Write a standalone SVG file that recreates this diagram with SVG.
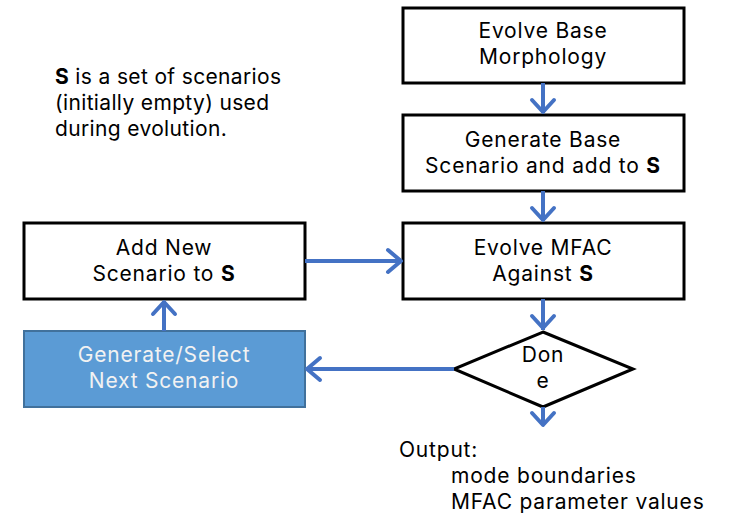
<svg xmlns="http://www.w3.org/2000/svg" width="732" height="517" viewBox="0 0 732 517">
<style>
.box{fill:#fff;stroke:#000;stroke-width:3}
.blue{fill:#5B9BD5;stroke:#41719C;stroke-width:2}
.t{font-family:Inter,"Open Sans",sans-serif;font-size:21px;letter-spacing:0.8px;fill:#000;text-anchor:middle}
.n{letter-spacing:0.35px}
.w{fill:#F2F2F2}
.l{text-anchor:start}
.c{stroke:#4472C4;stroke-width:4;fill:none}
.h{stroke:#4472C4;stroke-width:4;fill:none;stroke-linecap:round;stroke-linejoin:round}
</style>
<rect width="732" height="517" fill="#fff"/>
<g id="note">
<text class="t l n" x="55" y="84"><tspan font-weight="bold">S</tspan> is a set of scenarios</text>
<text class="t l n" x="55" y="110">(initially empty) used</text>
<text class="t l n" x="55" y="136">during evolution.</text>
</g>
<g id="evolveBase">
<rect class="box" x="403" y="8" width="281" height="75"/>
<text class="t" x="543" y="38">Evolve Base</text>
<text class="t" x="543" y="64">Morphology</text>
</g>
<g id="genBase">
<rect class="box" x="403" y="115" width="281" height="76"/>
<text class="t" x="543" y="147">Generate Base</text>
<text class="t" x="543" y="173">Scenario and add to <tspan font-weight="bold">S</tspan></text>
</g>
<g id="evolveMFAC">
<rect class="box" x="403" y="223" width="281" height="76"/>
<text class="t" x="543" y="255">Evolve MFAC</text>
<text class="t" x="543" y="281">Against <tspan font-weight="bold">S</tspan></text>
</g>
<g id="addNew">
<rect class="box" x="24" y="223" width="281" height="76"/>
<text class="t" x="164" y="255">Add New</text>
<text class="t" x="164" y="281">Scenario to <tspan font-weight="bold">S</tspan></text>
</g>
<g id="genSelect">
<rect class="blue" x="24" y="331" width="281" height="76"/>
<text class="t w" x="164" y="362">Generate/Select</text>
<text class="t w" x="164" y="388">Next Scenario</text>
</g>
<g id="done">
<polygon points="543,332 633,369 543,407 454,369" fill="#fff" stroke="#000" stroke-width="3"/>
<text class="t" x="543" y="362">Don</text>
<text class="t" x="543" y="388">e</text>
</g>
<g id="output">
<text class="t l" x="399" y="457">Output:</text>
<text class="t l" x="451" y="483">mode boundaries</text>
<text class="t l" x="451" y="509">MFAC parameter values</text>
</g>
<g id="connectors">
<line class="c" x1="543" y1="83" x2="543" y2="113"/>
<path class="h" d="M532,100 L543,112 L554,100"/>
<line class="c" x1="543" y1="191" x2="543" y2="221"/>
<path class="h" d="M532,208 L543,220 L554,208"/>
<line class="c" x1="543" y1="299" x2="543" y2="330"/>
<path class="h" d="M532,316 L543,328 L554,316"/>
<line class="c" x1="305" y1="261" x2="401" y2="261"/>
<path class="h" d="M388,250 L401,261 L388,272"/>
<line class="c" x1="164" y1="331" x2="164" y2="301"/>
<path class="h" d="M153,314 L164,302 L175,314"/>
<line class="c" x1="454" y1="369" x2="307" y2="369"/>
<path class="h" d="M320,358 L307,369 L320,380"/>
<line class="c" x1="543" y1="407" x2="543" y2="425"/>
<path class="h" d="M532,413 L543,425 L554,413"/>
</g>
</svg>
